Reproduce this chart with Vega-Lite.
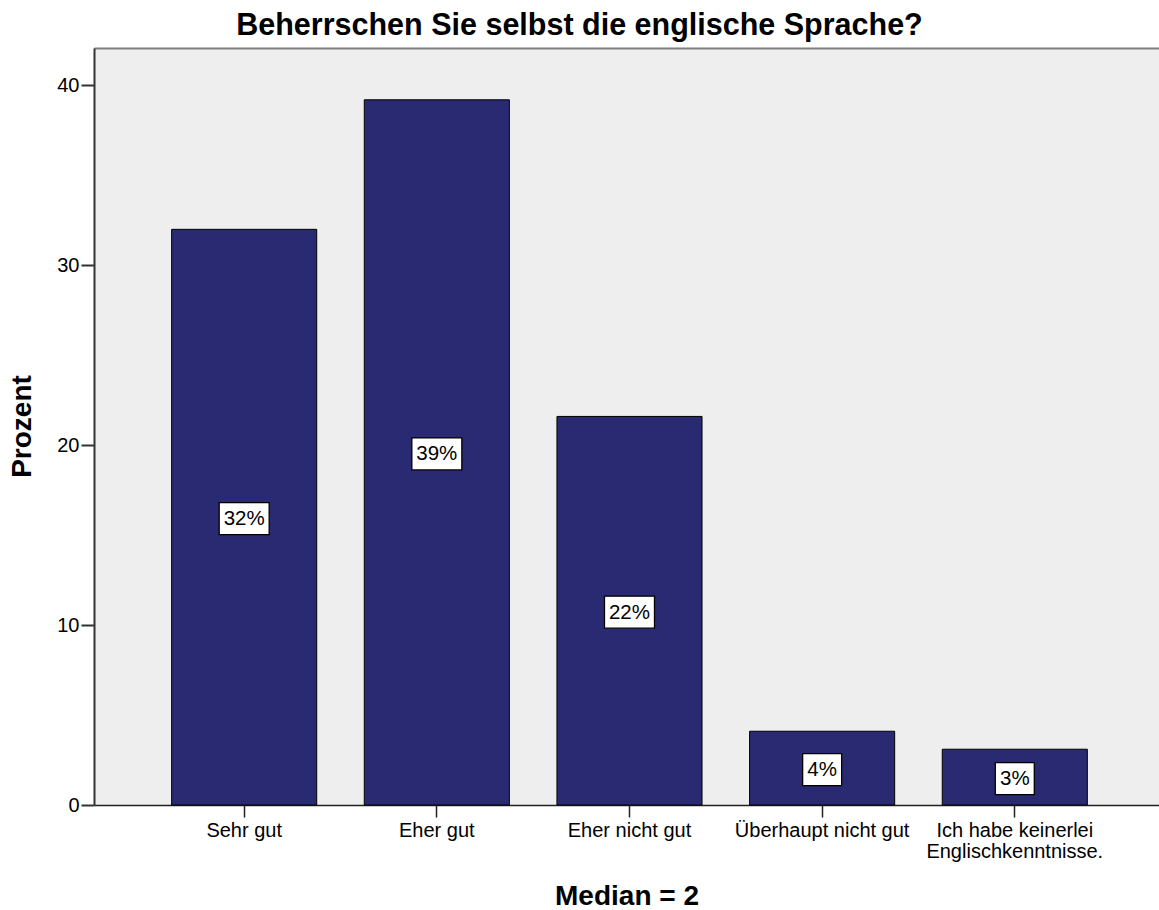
{
  "$schema": "https://vega.github.io/schema/vega-lite/v6.json",
  "autosize": "none",
  "width": 1065,
  "height": 757,
  "padding": {"left": 94, "top": 48, "right": 0, "bottom": 105},
  "background": "white",
  "config": {"font": "Liberation Sans", "view": {"fill": "#eeeeee", "stroke": null}},
  "title": {
    "text": "Beherrschen Sie selbst die englische Sprache?",
    "fontSize": 30.5,
    "fontWeight": "bold",
    "font": "Liberation Sans",
    "color": "black",
    "anchor": "middle",
    "dx": -47,
    "baseline": "alphabetic",
    "offset": -17
  },
  "data": {
    "values": [
      {"category": "Sehr gut", "pct": 32.0, "label": "32%"},
      {"category": "Eher gut", "pct": 39.2, "label": "39%"},
      {"category": "Eher nicht gut", "pct": 21.6, "label": "22%"},
      {"category": "Überhaupt nicht gut", "pct": 4.1, "label": "4%"},
      {"category": "Ich habe keinerlei Englischkenntnisse.", "pct": 3.1, "label": "3%"}
    ]
  },
  "resolve": {"scale": {"y": "independent"}, "axis": {"x": "independent", "y": "independent"}},
  "layer": [
    {
      "mark": {"type": "bar", "color": "#292a72", "stroke": "black", "strokeWidth": 1},
      "encoding": {
        "x": {
          "field": "category",
          "type": "nominal",
          "sort": null,
          "scale": {"paddingInner": 0.247, "paddingOuter": 0.3875, "align": 0.52},
          "axis": {
            "orient": "bottom",
            "title": "Median = 2",
            "titleFontSize": 28,
            "titleFontWeight": "bold",
            "titleColor": "black",
            "titleBaseline": "alphabetic",
            "titleY": 99,
            "labelAngle": 0,
            "labelFontSize": 20,
            "labelColor": "black",
            "labelPadding": 3,
            "labelBaseline": "top",
            "labelLineHeight": 21,
            "labelExpr": "datum.value == 'Ich habe keinerlei Englischkenntnisse.' ? ['Ich habe keinerlei', 'Englischkenntnisse.'] : datum.label",
            "labelOverlap": false,
            "labelLimit": 0,
            "tickSize": 12,
            "tickColor": "#222222",
            "tickWidth": 1.5,
            "domainColor": "#222222",
            "domainWidth": 1.5
          }
        },
        "y": {
          "field": "pct",
          "type": "quantitative",
          "scale": {"domain": [0, 42.08], "nice": false},
          "axis": {
            "title": "Prozent",
            "titleFontSize": 28,
            "titleFontWeight": "bold",
            "titleColor": "black",
            "titleAngle": -90,
            "titleBaseline": "alphabetic",
            "titleAlign": "center",
            "titleX": -64,
            "titleY": 378,
            "values": [0, 10, 20, 30, 40],
            "labelFontSize": 20,
            "labelColor": "black",
            "labelPadding": 2,
            "tickSize": 13,
            "tickWidth": 2,
            "tickColor": "#333333",
            "domainColor": "#333333",
            "domainWidth": 2,
            "grid": false
          }
        }
      }
    },
    {
      "mark": {"type": "point", "filled": true, "fill": "white", "stroke": "black", "strokeWidth": 1.3, "opacity": 1, "size": 2500},
      "encoding": {
        "x": {
          "field": "category",
          "type": "nominal",
          "sort": null,
          "scale": {"paddingInner": 0.247, "paddingOuter": 0.3875, "align": 0.52},
          "axis": {"orient": "top", "title": null, "labels": false, "ticks": false, "domainColor": "#808080", "domainWidth": 2}
        },
        "y": {"field": "pct", "type": "quantitative", "scale": {"domain": [0, 84.16], "nice": false}, "axis": null},
        "shape": {
          "condition": {"test": "length(datum.label) > 2", "value": "M-1,-0.58L1,-0.58L1,0.7L-1,0.7Z"},
          "value": "M-0.78,-0.58L0.78,-0.58L0.78,0.7L-0.78,0.7Z"
        }
      }
    },
    {
      "mark": {"type": "text", "fontSize": 20.5, "color": "black", "align": "center", "baseline": "middle", "dy": 2},
      "encoding": {
        "x": {"field": "category", "type": "nominal", "sort": null, "scale": {"paddingInner": 0.247, "paddingOuter": 0.3875, "align": 0.52}, "axis": null},
        "y": {"field": "pct", "type": "quantitative", "scale": {"domain": [0, 84.16], "nice": false}, "axis": null},
        "text": {"field": "label"}
      }
    }
  ]
}
